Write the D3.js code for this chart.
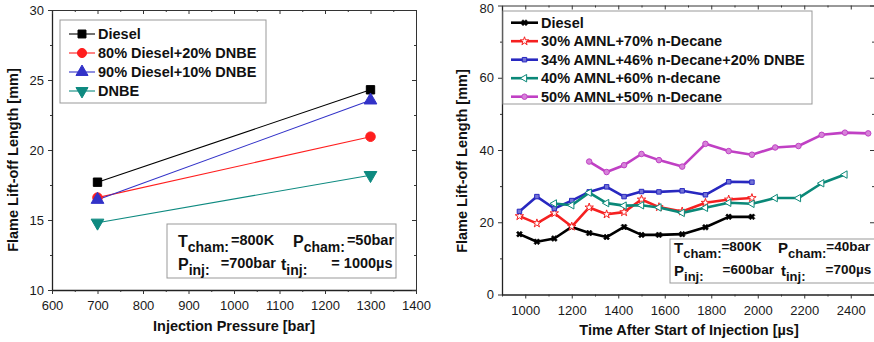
<!DOCTYPE html>
<html><head><meta charset="utf-8">
<script src="https://cdn.jsdelivr.net/npm/d3@7"></script>
<style>
body{margin:0;background:#fff;}
svg{display:block;font-family:"Liberation Sans",Arial,sans-serif;}
</style></head>
<body><svg id="c" width="874" height="342"></svg>
<script>
// ---------- Left chart data ----------
const leftPressure = [700, 1300];
const leftSeriesNames = ["Diesel", "80% Diesel+20% DNBE", "90% Diesel+10% DNBE", "DNBE"];
const leftDiesel = [17.7, 24.3];
const left80Diesel20DNBE = [16.6, 20.95];
const left90Diesel10DNBE = [16.45, 23.55];
const leftDNBE = [14.8, 18.2];
const leftXTicks = [600, 700, 800, 900, 1000, 1100, 1200, 1300, 1400];
const leftYTicks = [10, 15, 20, 25, 30];

// ---------- Right chart data ----------
const rightSeriesNames = ["Diesel", "30% AMNL+70% n-Decane", "34% AMNL+46% n-Decane+20% DNBE", "40% AMNL+60% n-decane", "50% AMNL+50% n-Decane"];
const timeA = [975, 1050, 1125, 1200, 1275, 1350, 1425, 1500, 1575, 1675, 1775, 1875, 1975];
const rDiesel = [16.7, 14.6, 15.5, 18.7, 17.0, 15.9, 18.7, 16.5, 16.5, 16.7, 18.6, 21.5, 21.5];
const rAmnl30 = [21.7, 19.7, 22.5, 18.8, 24.1, 22.2, 22.8, 26.3, 24.2, 23.0, 25.4, 26.3, 26.7];
const rAmnl34 = [23.0, 27.1, 23.8, 26.0, 28.4, 29.8, 27.1, 28.5, 28.4, 28.7, 27.6, 31.2, 31.1];
const timeB = [1125, 1200, 1275, 1350, 1425, 1500, 1575, 1675, 1775, 1875, 1975, 2075, 2175, 2275, 2375];
const rAmnl40 = [25.2, 24.7, 28.2, 25.3, 24.6, 24.7, 24.1, 22.6, 24.0, 25.4, 25.1, 26.7, 26.7, 30.8, 33.2];
const timeC = [1275, 1350, 1425, 1500, 1575, 1675, 1775, 1875, 1975, 2075, 2175, 2275, 2375, 2475];
const rAmnl50 = [36.8, 33.9, 35.8, 38.9, 37.2, 35.4, 41.7, 39.7, 38.7, 40.7, 41.1, 44.2, 44.8, 44.6];
const rightXTicks = [1000, 1200, 1400, 1600, 1800, 2000, 2200, 2400];
const rightYTicks = [0, 20, 40, 60, 80];

const svg = d3.select("#c");
const FONT = '"Liberation Sans",Arial,sans-serif';

function frame(g, x, y, xt, xminor, yt, yminor) {
  const [x0, x1] = x.range(), [y0, y1] = y.range();
  g.append("g").attr("transform", `translate(0,${y0})`)
    .call(d3.axisBottom(x).tickValues(xt).tickSize(4).tickSizeOuter(0).tickFormat(d3.format("d")))
    .call(s => { s.select(".domain").attr("stroke", "#222").attr("stroke-width", 1.3); s.selectAll("text").attr("font-size", 13).attr("font-family", FONT).attr("fill", "#1a1a1a").attr("dy", "1.0em"); });
  g.append("g").attr("transform", `translate(0,${y0})`)
    .call(d3.axisBottom(x).tickValues(xminor).tickSize(2).tickFormat(""))
    .call(s => s.select(".domain").remove());
  g.append("g").attr("transform", `translate(${x0},0)`)
    .call(d3.axisLeft(y).tickValues(yt).tickSize(4).tickSizeOuter(0).tickFormat(d3.format("d")))
    .call(s => {
      s.select(".domain").attr("stroke", "#222").attr("stroke-width", 1.3);
      s.selectAll("text").attr("font-size", 13).attr("font-family", FONT).attr("fill", "#1a1a1a").attr("dx", "-1px")
        .attr("dy", d => (y(d) < 9 ? "0.5em" : "0.32em"));
    });
  g.append("g").attr("transform", `translate(${x0},0)`)
    .call(d3.axisLeft(y).tickValues(yminor).tickSize(2).tickFormat(""))
    .call(s => s.select(".domain").remove());
  g.append("g").attr("transform", `translate(0,${y1})`)
    .call(d3.axisTop(x).tickValues(xt).tickSize(-4).tickSizeOuter(0).tickFormat(""))
    .call(s => s.select(".domain").attr("stroke", "#333").attr("stroke-width", 1));
  g.append("g").attr("transform", `translate(0,${y1})`)
    .call(d3.axisTop(x).tickValues(xminor).tickSize(-2).tickFormat(""))
    .call(s => s.select(".domain").remove());
  g.append("g").attr("transform", `translate(${x1},0)`)
    .call(d3.axisRight(y).tickValues(yt).tickSize(-4).tickSizeOuter(0).tickFormat(""))
    .call(s => s.select(".domain").attr("stroke", "#333").attr("stroke-width", 1));
  g.append("g").attr("transform", `translate(${x1},0)`)
    .call(d3.axisRight(y).tickValues(yminor).tickSize(-2).tickFormat(""))
    .call(s => s.select(".domain").remove());
  g.selectAll(".tick line").attr("stroke", "#333");
}

function marker(g, type, cx, cy, color, size) {
  let sym, fill = color, stroke = color, rot = 0;
  switch (type) {
    case "square": sym = d3.symbolSquare; break;
    case "circle": sym = d3.symbolCircle; break;
    case "tri": sym = d3.symbolTriangle; break;
    case "tridown": sym = d3.symbolTriangle; rot = 180; break;
    case "cross": sym = d3.symbolCross; rot = 45; break;
    case "star": sym = d3.symbolStar; fill = "#fff"; break;
    case "ftri": sym = d3.symbolTriangle; rot = -90; fill = "#fff"; break;
    case "fsq": sym = d3.symbolSquare; fill = d3.interpolateRgb(color, "#fff")(0.35); break;
    case "fcirc": sym = d3.symbolCircle; fill = d3.interpolateRgb(color, "#fff")(0.35); break;
  }
  g.append("path").attr("d", d3.symbol(sym, size)())
    .attr("transform", `translate(${cx},${cy}) rotate(${rot})`)
    .attr("fill", fill).attr("stroke", stroke).attr("stroke-width", type === "cross" ? 0.6 : 1);
}

function cond(g, x, y, main, sub, val, valdx, big) {
  const t = g.append("text").attr("x", x).attr("y", y).attr("font-weight", "bold").attr("fill", "#111");
  t.append("tspan").attr("font-size", big ? 16 : 15).text(main);
  t.append("tspan").attr("font-size", big ? 14 : 13).attr("dy", 5).text(sub);
  t.append("tspan").attr("font-size", big ? 14.5 : 13.5).attr("dy", -7).attr("dx", valdx).text(val);
}

// ================= LEFT CHART =================
const lx = d3.scaleLinear().domain([600, 1400]).range([52, 416]);
const ly = d3.scaleLinear().domain([10, 30]).range([290, 10]);
const L = svg.append("g");
frame(L, lx, ly, leftXTicks, d3.range(650, 1400, 100), leftYTicks, d3.range(12.5, 30, 5));

const leftSeries = [
  { v: leftDiesel, c: "#000000", m: "square", s: 70 },
  { v: left80Diesel20DNBE, c: "#ff1e1e", m: "circle", s: 72 },
  { v: left90Diesel10DNBE, c: "#3232c8", m: "tri", s: 70 },
  { v: leftDNBE, c: "#0e8a80", m: "tridown", s: 70 }
];
const lline = d3.line().x((d, i) => lx(leftPressure[i])).y(d => ly(d));
leftSeries.forEach(s => {
  L.append("path").attr("d", lline(s.v)).attr("fill", "none").attr("stroke", s.c).attr("stroke-width", 1.1);
});
leftSeries.forEach(s => {
  s.v.forEach((d, i) => marker(L, s.m, lx(leftPressure[i]), ly(d), s.c, s.s));
});
L.append("rect").attr("x", 60).attr("y", 20).attr("width", 206).attr("height", 83)
  .attr("fill", "#fff").attr("stroke", "#999").attr("stroke-width", 1);
leftSeries.forEach((s, i) => {
  const yy = 34 + i * 19;
  L.append("line").attr("x1", 69).attr("x2", 95).attr("y1", yy).attr("y2", yy).attr("stroke", s.c).attr("stroke-width", 1.1);
  marker(L, s.m, 82, yy, s.c, s.s * 0.9);
  L.append("text").attr("x", 98).attr("y", yy + 5).attr("font-size", 14.5).attr("font-weight", "bold").attr("fill", "#111").text(leftSeriesNames[i]);
});
L.append("rect").attr("x", 167).attr("y", 224).attr("width", 229).attr("height", 54)
  .attr("fill", "#fff").attr("stroke", "#999").attr("stroke-width", 1);
cond(L, 178, 247, "T", "cham:", "=800K", 2, true);
cond(L, 293, 247, "P", "cham:", "=50bar", 2, true);
cond(L, 178, 270, "P", "inj:", "=700bar", 11, true);
cond(L, 281, 270, "t", "inj:", "= 1000µs", 24, true);
L.append("text").attr("x", 234).attr("y", 331).attr("text-anchor", "middle").attr("font-size", 14.5).attr("font-weight", "bold").attr("fill", "#111").text("Injection Pressure [bar]");
L.append("text").attr("transform", "translate(18,160) rotate(-90)").attr("text-anchor", "middle").attr("font-size", 14.5).attr("font-weight", "bold").attr("fill", "#111").text("Flame Lift-off Length [mm]");

// ================= RIGHT CHART =================
const rx = d3.scaleLinear().domain([900, 2500]).range([502, 874]);
const ry = d3.scaleLinear().domain([0, 80]).range([294.5, 5.5]);
const R = svg.append("g");
frame(R, rx, ry, rightXTicks, d3.range(900, 2500, 200), rightYTicks, d3.range(10, 80, 20));

const rightSeries = [
  { t: timeA, v: rDiesel, c: "#000000", m: "cross", s: 22 },
  { t: timeA, v: rAmnl30, c: "#f52020", m: "star", s: 22 },
  { t: timeA, v: rAmnl34, c: "#2828c0", m: "fsq", s: 20 },
  { t: timeB, v: rAmnl40, c: "#0a8878", m: "ftri", s: 24 },
  { t: timeC, v: rAmnl50, c: "#c040c4", m: "fcirc", s: 24 }
];
rightSeries.forEach(s => {
  const ln = d3.line().x((d, i) => rx(s.t[i])).y(d => ry(d));
  R.append("path").attr("d", ln(s.v)).attr("fill", "none").attr("stroke", s.c).attr("stroke-width", 2.6).attr("stroke-linejoin", "round");
  s.v.forEach((d, i) => marker(R, s.m, rx(s.t[i]), ry(d), s.c, s.s));
});
R.append("rect").attr("x", 503).attr("y", 11).attr("width", 309).attr("height", 93)
  .attr("fill", "#fff").attr("stroke", "#999").attr("stroke-width", 1);
rightSeries.forEach((s, i) => {
  const yy = 22.7 + i * 18.5;
  R.append("line").attr("x1", 511).attr("x2", 538).attr("y1", yy).attr("y2", yy).attr("stroke", s.c).attr("stroke-width", 2.6);
  marker(R, s.m, 524.5, yy, s.c, s.s);
  R.append("text").attr("x", 541).attr("y", yy + 5).attr("font-size", 14.5).attr("font-weight", "bold").attr("fill", "#111").text(rightSeriesNames[i]);
});
R.append("rect").attr("x", 670).attr("y", 239).attr("width", 210).attr("height", 44)
  .attr("fill", "#fff").attr("stroke", "#999").attr("stroke-width", 1);
cond(R, 674, 253, "T", "cham:", "=800K", 0, false);
cond(R, 778, 253, "P", "cham:", "=40bar", 0, false);
cond(R, 674, 276, "P", "inj:", "=600bar", 19, false);
cond(R, 781, 276, "t", "inj:", "=700µs", 20, false);
R.append("text").attr("x", 689).attr("y", 335).attr("text-anchor", "middle").attr("font-size", 14.5).attr("font-weight", "bold").attr("fill", "#111").text("Time After Start of Injection [µs]");
R.append("text").attr("transform", "translate(467,161) rotate(-90)").attr("text-anchor", "middle").attr("font-size", 14.5).attr("font-weight", "bold").attr("fill", "#111").text("Flame Lift-off Length [mm]");
</script></body></html>
